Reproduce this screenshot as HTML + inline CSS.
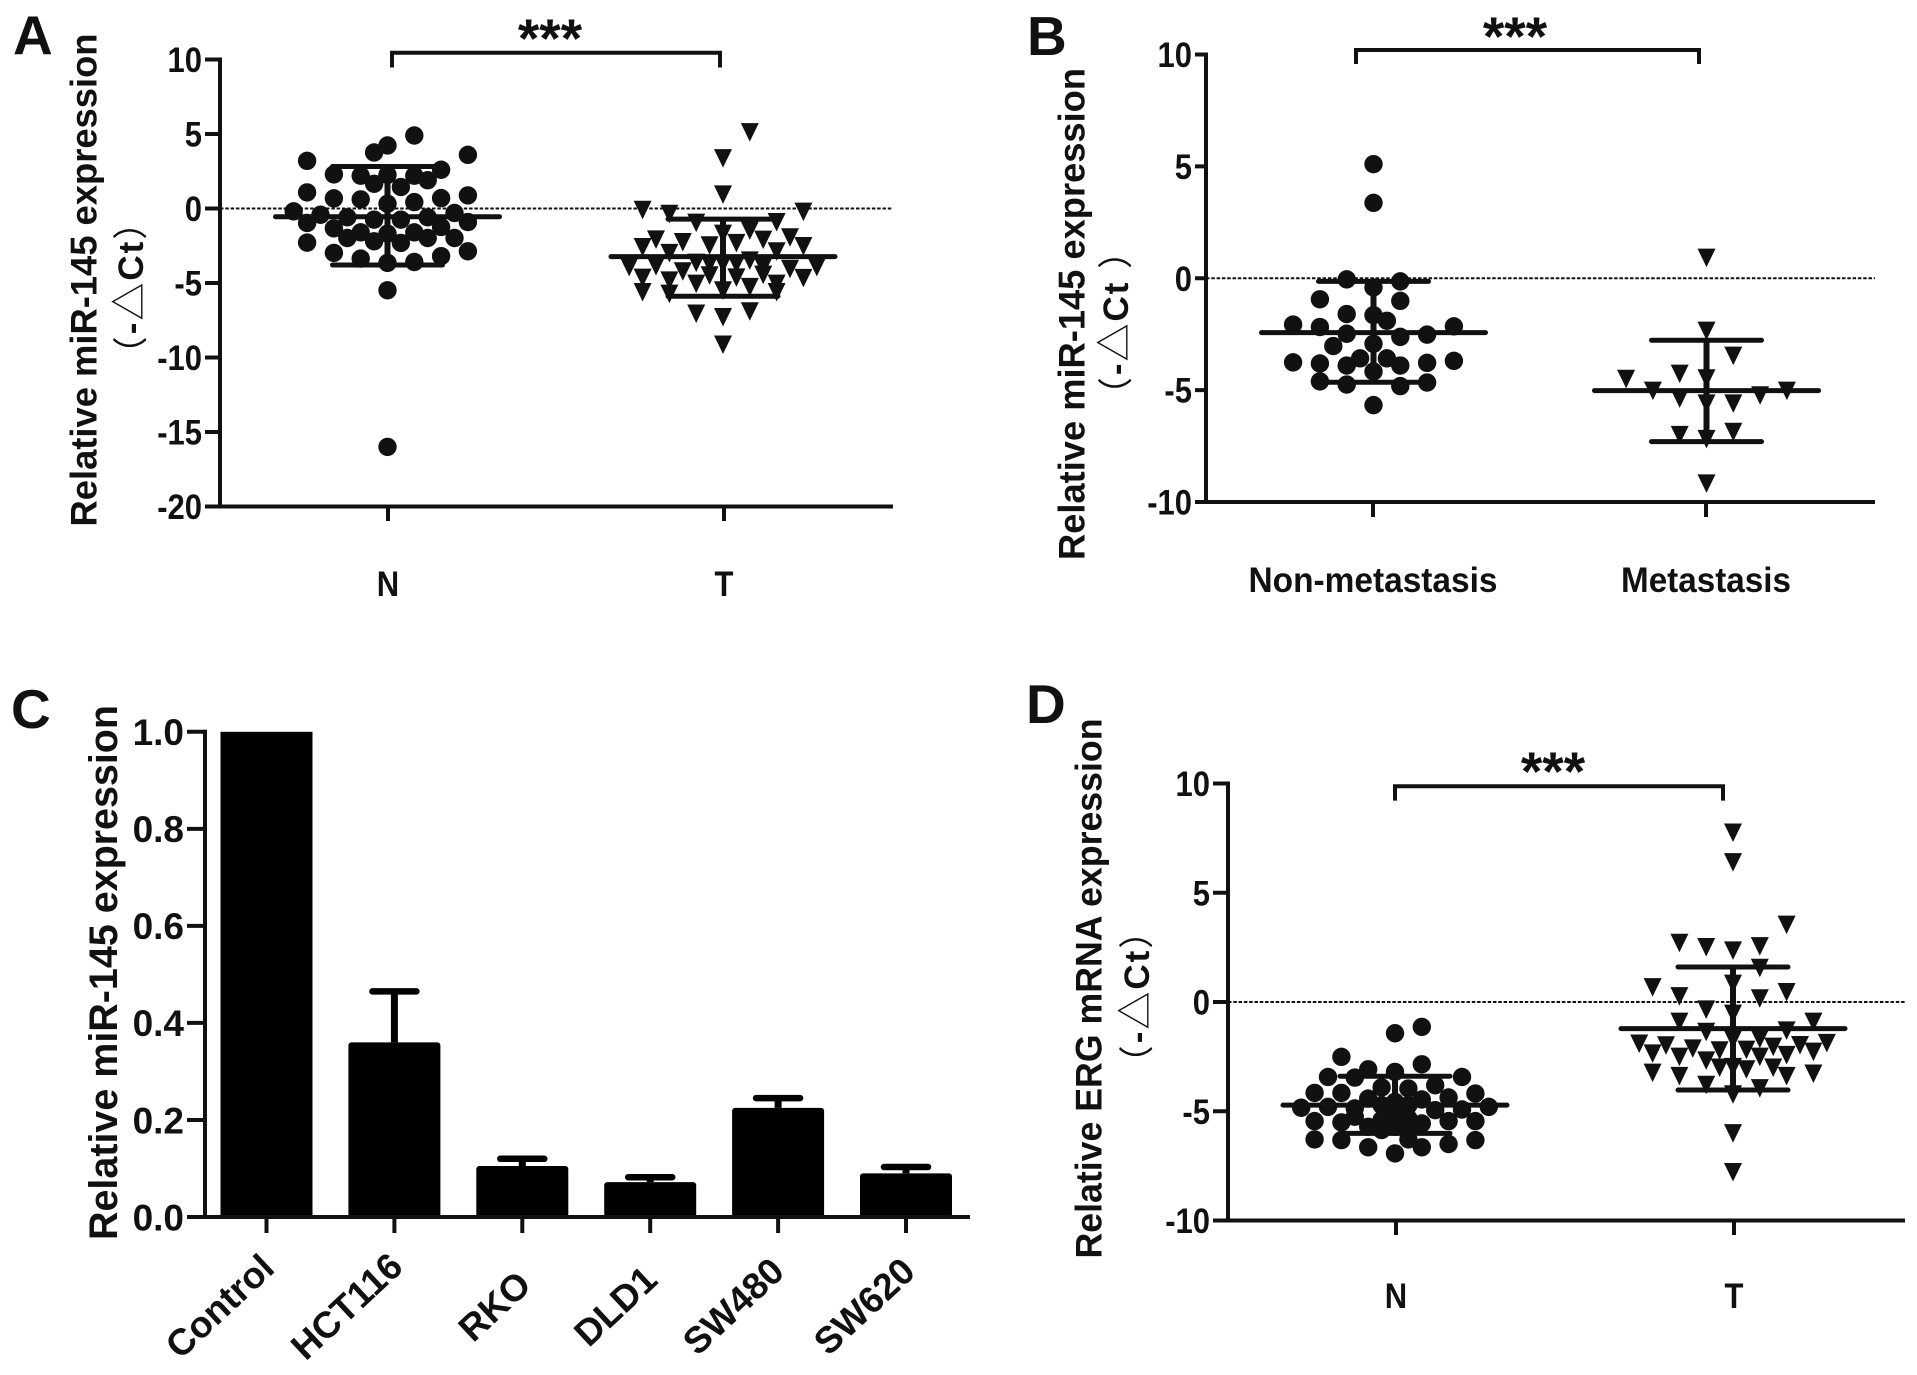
<!DOCTYPE html>
<html lang="en">
<head>
<meta charset="utf-8">
<title>miR-145 expression figure</title>
<style>
html,body{margin:0;padding:0;background:#fff;}
svg{display:block;position:absolute;left:0;top:0;}
text{font-family:"Liberation Sans","Noto Sans CJK SC",sans-serif;font-weight:bold;fill:#111;}
.thin{font-weight:normal;}
.tri{font-weight:normal;font-size:38px;}
</style>
</head>
<body>
<svg id="figure" xmlns="http://www.w3.org/2000/svg" width="1917" height="1375" viewBox="0 0 1917 1375">
  <rect x="0" y="0" width="1917" height="1375" fill="#fff"/>

  <text x="13" y="54" font-size="55">A</text>
  <text x="1027" y="55" font-size="55">B</text>
  <text x="11" y="728" font-size="55">C</text>
  <text x="1026" y="723" font-size="55">D</text>

  <text transform="translate(96.5,280) rotate(-90)" text-anchor="middle" font-size="37" textLength="493" lengthAdjust="spacingAndGlyphs">Relative miR-145 expression</text>
  <text transform="translate(143,287) rotate(-90)" text-anchor="middle" font-size="35" letter-spacing="2"><tspan class="thin">（</tspan>-<tspan class="tri">△</tspan>Ct<tspan class="thin">）</tspan></text>

  <text transform="translate(1084.5,314) rotate(-90)" text-anchor="middle" font-size="37" textLength="492" lengthAdjust="spacingAndGlyphs">Relative miR-145 expression</text>
  <text transform="translate(1128,322) rotate(-90)" text-anchor="middle" font-size="35" letter-spacing="2"><tspan class="thin">（</tspan>-<tspan class="tri">△</tspan>Ct  <tspan class="thin">）</tspan></text>

  <text transform="translate(117,972.5) rotate(-90)" text-anchor="middle" font-size="40" textLength="535" lengthAdjust="spacingAndGlyphs">Relative miR-145 expression</text>

  <text transform="translate(1101.7,988.5) rotate(-90)" text-anchor="middle" font-size="37" textLength="540" lengthAdjust="spacingAndGlyphs">Relative ERG mRNA expression</text>
  <text transform="translate(1149,996) rotate(-90)" text-anchor="middle" font-size="35" letter-spacing="2"><tspan class="thin">（</tspan>-<tspan class="tri">△</tspan>Ct<tspan class="thin">）</tspan></text>

  <text x="550" y="57" text-anchor="middle" font-size="55">***</text>
  <text x="1515" y="55" text-anchor="middle" font-size="55">***</text>
  <text x="1553" y="790" text-anchor="middle" font-size="55">***</text>

  <path d="M392 67.5V52.8H720V67.5" fill="none" stroke="#111" stroke-width="4"/>
  <path d="M1356 64V50H1699V64" fill="none" stroke="#111" stroke-width="4"/>
  <path d="M1395 800.6V786.3H1723V800.6" fill="none" stroke="#111" stroke-width="4"/>

  <g id="panel-a"></g>
  <g id="panel-b"></g>
  <g id="panel-c"></g>
  <g id="panel-d"></g>
</svg>

<script>
// ---- Panel A data ----
const aCategories = ['N', 'T'];
const aYTicks = [10, 5, 0, -5, -10, -15, -20];
const aNColumns = [2,0,-1,6,-6,4,-4,-2,0,2,-1,3,1,-6,-4,-2,0,2,4,6,-7,-5,-6,-3,-1,1,3,5,6,-4,-2,-3,-1,0,1,2,3,4,5,-6,-4,-2,0,2,4,6,0,0];
const aNValues = [4.9,4.23,3.76,3.6,3.2,2.6,2.29,2.2,2.26,2.2,1.66,1.9,1.44,1.08,0.68,0.61,0.32,0.43,0.7,0.88,-0.19,-0.42,-0.97,-0.59,-0.75,-0.75,-0.59,-0.3,-0.91,-1.33,-1.6,-1.98,-2.2,-1.69,-2.31,-1.6,-1.98,-1.24,-1.98,-2.29,-2.98,-3.36,-3.65,-3.59,-3.2,-2.87,-5.49,-16];
const aTColumns = [2,0,0,-6,-4,6,-2,4,2,0,-5,-3,-6,-1,1,3,5,6,-4,4,-2,2,-7,-5,-3,-1,0,1,3,5,7,-6,-4,6,-2,2,4,0,-6,-4,4,-2,0,2,0,-1,1,3];
const aTValues = [5.13,3.38,0.95,-0.08,-0.35,-0.21,-0.95,-0.91,-1.47,-1.69,-2.07,-2.25,-2.58,-2.47,-2.31,-2.09,-1.93,-2.52,-2.98,-2.87,-3.63,-3.48,-3.92,-3.86,-4.21,-4.48,-3.7,-4.62,-4.44,-4.04,-3.92,-4.64,-4.82,-4.66,-5.04,-5.26,-5.04,-5.49,-5.6,-5.71,-5.6,-7.05,-7.28,-6.9,-9.13,-3.72,-3.72,-3.92];
const aMeans = [-0.55, -3.23];
const aUpper = [2.82, -0.71];
const aLower = [-3.79, -5.89];

// ---- Panel B data ----
const bCategories = ['Non-metastasis', 'Metastasis'];
const bYTicks = [10, 5, 0, -5, -10];
const bNColumns = [0,0,-2,2,0,-4,2,-2,0,1,-6,-4,6,-2,4,2,0,-3,-6,-4,-2,-1,1,2,4,6,0,-4,-2,2,4,0];
const bNValues = [5.1,3.37,-0.05,-0.14,-0.41,-0.94,-1.01,-1.6,-1.65,-1.9,-2.07,-2.18,-2.15,-2.48,-2.52,-2.62,-2.93,-3.03,-3.76,-3.81,-3.9,-3.58,-3.58,-3.9,-3.78,-3.69,-4.17,-4.61,-4.75,-4.82,-4.66,-5.67];
const bTColumns = [0,0,2,-6,-2,0,-4,-2,0,2,4,6,-2,0,2,0];
const bTValues = [0.92,-2.34,-3.46,-4.49,-4.26,-4.47,-5.02,-5.37,-5.59,-5.59,-5.23,-5.02,-7.0,-7.18,-6.86,-9.17];
const bMeans = [-2.43, -5.02];
const bUpper = [-0.14, -2.77];
const bLower = [-4.65, -7.3];

// ---- Panel C data ----
const cCategories = ['Control', 'HCT116', 'RKO', 'DLD1', 'SW480', 'SW620'];
const cYTicks = [0.0, 0.2, 0.4, 0.6, 0.8, 1.0];
const cValues = [1.0, 0.36, 0.105, 0.072, 0.225, 0.09];
const cErrorTops = [1.0, 0.465, 0.12, 0.082, 0.245, 0.103];

// ---- Panel D data ----
const dCategories = ['N', 'T'];
const dYTicks = [10, 5, 0, -5, -10];
const dNColumns = [2,0,-4,2,-2,0,-3,-5,5,3,-1,1,-4,-6,6,4,2,-2,-5,-7,7,5,-3,0,-1,1,3,-6,-4,-3,-1,1,2,4,6,-2,-1,0,1,0,-6,-4,-2,0,1,2,4,6];
const dNValues = [-1.14,-1.43,-2.51,-2.85,-3.08,-3.2,-3.46,-3.43,-3.43,-3.81,-3.91,-3.96,-4.16,-4.16,-4.19,-4.37,-4.46,-4.42,-4.8,-4.84,-4.8,-4.92,-4.87,-4.57,-4.72,-4.72,-4.95,-5.45,-5.51,-5.25,-5.4,-5.33,-5.56,-5.45,-5.45,-5.71,-5.86,-5.71,-5.86,-5.18,-6.29,-6.32,-6.65,-6.93,-6.29,-6.65,-6.5,-6.32];
const dTColumns = [0,0,0,0,4,-4,-2,0,2,2,0,-6,-4,2,4,-2,0,-4,6,-2,4,0,2,-7,-5,-3,-1,1,3,5,7,-6,-4,-2,2,4,6,-1,0,1,3,-6,-4,4,6,-2,2,0];
const dTValues = [7.76,6.4,-6.0,-7.78,3.54,2.71,2.52,2.36,2.56,1.57,0.84,0.68,0.27,0.17,0.46,-0.34,-0.53,-0.9,-0.9,-1.36,-1.3,-1.71,-1.68,-1.9,-1.98,-2.12,-2.21,-2.18,-2.04,-1.97,-1.87,-2.35,-2.5,-2.67,-2.5,-2.42,-2.27,-3.0,-2.97,-3.08,-3.0,-3.23,-3.38,-3.38,-3.27,-3.79,-3.94,-4.22];
const dMeans = [-4.72, -1.22];
const dUpper = [-3.4, 1.6];
const dLower = [-6.01, -4.03];

// ---- Drawing ----
const SVG_NS = 'http://www.w3.org/2000/svg';
const INK = '#111';
const COLUMN_STEP = 13.4;

function make(parent, tag, attrs) {
  const node = document.createElementNS(SVG_NS, tag);
  for (const key in attrs) node.setAttribute(key, attrs[key]);
  parent.appendChild(node);
  return node;
}
function linearScale(d0, d1, p0, p1) {
  return function (v) { return p0 + (v - d0) * (p1 - p0) / (d1 - d0); };
}

function drawAxes(g, box, yScale, yTicks, tickLabel, centers, fontSize, squeeze) {
  const yAxis = make(g, 'line', {x1: box.axisX, x2: box.axisX, y1: yScale(box.yMax) - 2, y2: yScale(box.yMin) + 2, stroke: INK, 'stroke-width': 4});
  
  
  const xAxis = make(g, 'line', {x1: box.axisX - 2, x2: box.xEnd, y1: yScale(box.yMin), y2: yScale(box.yMin), stroke: INK, 'stroke-width': 4});
  
  
  yTicks.forEach(function (t) {
    const tick = make(g, 'line', {x1: box.tickLeft, x2: box.axisX, y1: yScale(t), y2: yScale(t), stroke: INK, 'stroke-width': 4});
    
    
    const lx = box.tickLeft - 3;
    const ly = yScale(t) + fontSize * 0.36;
    const label = make(g, 'text', {transform: 'translate(' + lx + ',' + ly + ') scale(' + squeeze + ',1)', 'text-anchor': 'end', 'font-size': fontSize});
    label.textContent = tickLabel(t);
    
    
  });
  centers.forEach(function (cx) {
    const tick = make(g, 'line', {x1: cx, x2: cx, y1: yScale(box.yMin), y2: box.tickBottom, stroke: INK, 'stroke-width': 4});
    
    
  });
}

function drawCircles(g, cx, columns, values, yScale) {
  values.forEach(function (v, i) {
    const dot = make(g, 'circle', {cx: cx + columns[i] * COLUMN_STEP, cy: yScale(v), r: 9.2, fill: INK});
    
    
  });
}
function drawTriangles(g, cx, columns, values, yScale) {
  values.forEach(function (v, i) {
    const x = cx + columns[i] * COLUMN_STEP;
    const y = yScale(v);
    const tri = make(g, 'polygon', {points: (x - 9) + ',' + (y - 9) + ' ' + (x + 9) + ',' + (y - 9) + ' ' + x + ',' + (y + 9.5), fill: INK});
    
    
  });
}
function drawSummary(g, cx, mean, upper, lower, yScale) {
  const stem = make(g, 'line', {x1: cx, x2: cx, y1: yScale(upper), y2: yScale(lower), stroke: INK, 'stroke-width': 6});
  
  
  [[upper, 55], [lower, 55], [mean, 112]].forEach(function (pair, i) {
    const bar = make(g, 'line', {x1: cx - pair[1], x2: cx + pair[1], y1: yScale(pair[0]), y2: yScale(pair[0]), stroke: INK, 'stroke-width': 5, 'stroke-linecap': 'round'});
    
    
  });
}
function drawZeroLine(g, box, yScale) {
  const zero = make(g, 'line', {x1: box.axisX, x2: box.xEnd, y1: yScale(0), y2: yScale(0), stroke: INK, 'stroke-width': 2, 'stroke-dasharray': '3.5 1.8'});
  
  
}
function drawCategoryLabels(g, categories, centers, baseline, widths) {
  categories.forEach(function (name, i) {
    const attrs = {'text-anchor': 'middle', 'font-size': 35};
    if (widths) {
      attrs.x = centers[i];
      attrs.y = baseline;
      attrs.textLength = widths[i];
      attrs.lengthAdjust = 'spacingAndGlyphs';
    } else {
      attrs.transform = 'translate(' + centers[i] + ',' + baseline + ') scale(0.886,1)';
    }
    const label = make(g, 'text', attrs);
    label.textContent = name;
    
    
  });
}

function drawScatterPanel(id, box, yTicks, categories, s0c, s0v, s1c, s1v, means, upper, lower, labelWidths) {
  const g = document.getElementById(id);
  const y = linearScale(box.yMin, box.yMax, box.yBottom, box.yTop);
  drawZeroLine(g, box, y);
  drawCircles(g, box.swarm[0], s0c, s0v, y);
  drawTriangles(g, box.swarm[1], s1c, s1v, y);
  drawSummary(g, box.swarm[0], means[0], upper[0], lower[0], y);
  drawSummary(g, box.swarm[1], means[1], upper[1], lower[1], y);
  drawAxes(g, box, y, yTicks, String, box.ticks, 35, 0.886);
  drawCategoryLabels(g, categories, box.ticks, box.labelBase, labelWidths);
}

drawScatterPanel('panel-a',
  {axisX: 220, xEnd: 893, tickLeft: 205, tickBottom: 521, yMin: -20, yMax: 10, yBottom: 506.5, yTop: 59.5, ticks: [388, 724], swarm: [387.5, 723], labelBase: 596},
  aYTicks, aCategories, aNColumns, aNValues, aTColumns, aTValues, aMeans, aUpper, aLower, null);

drawScatterPanel('panel-b',
  {axisX: 1206, xEnd: 1875, tickLeft: 1195, tickBottom: 517, yMin: -10, yMax: 10, yBottom: 502, yTop: 54.5, ticks: [1373, 1706], swarm: [1373.5, 1706.5], labelBase: 592},
  bYTicks, bCategories, bNColumns, bNValues, bTColumns, bTValues, bMeans, bUpper, bLower, [249, 170]);

drawScatterPanel('panel-d',
  {axisX: 1228, xEnd: 1905, tickLeft: 1213, tickBottom: 1235, yMin: -10, yMax: 10, yBottom: 1220.5, yTop: 783.5, ticks: [1396, 1734], swarm: [1395, 1733], labelBase: 1308},
  dYTicks, dCategories, dNColumns, dNValues, dTColumns, dTValues, dMeans, dUpper, dLower, null);

(function drawBarPanel() {
  const g = document.getElementById('panel-c');
  const box = {axisX: 205, xEnd: 970, tickLeft: 187, tickBottom: 1233, yMin: 0, yMax: 1};
  const y = linearScale(0, 1, 1217, 731.8);
  const xCenter = function (i) { return 266.5 + i * 127.9; };
  const centers = cCategories.map(function (_, i) { return xCenter(i); });
  cValues.forEach(function (v, i) {
    const cx = xCenter(i);
    if (cErrorTops[i] > v) {
      const stem = make(g, 'line', {x1: cx, x2: cx, y1: y(cErrorTops[i]), y2: y(v), stroke: '#000', 'stroke-width': 7});
      
      
      const cap = make(g, 'line', {x1: cx - 22, x2: cx + 22, y1: y(cErrorTops[i]), y2: y(cErrorTops[i]), stroke: '#000', 'stroke-width': 6.5, 'stroke-linecap': 'round'});
      
      
    }
    const bar = make(g, 'rect', {x: cx - 46, y: y(v), width: 92, height: y(0) - y(v), fill: '#000', rx: i === 0 ? 0 : 3});
    
    
    const label = make(g, 'text', {transform: 'translate(' + (cx - 50 + [3, 2, 22, 15, 5, 8][i]) + ',' + (y(0) + 89) + ') rotate(-43)', 'text-anchor': 'middle', dy: '0.35em', 'font-size': 37});
    label.textContent = cCategories[i];
    
    
  });
  drawAxes(g, box, y, cYTicks, function (t) { return t.toFixed(1); }, centers, 37, 1);
})();
</script>
</body>
</html>
